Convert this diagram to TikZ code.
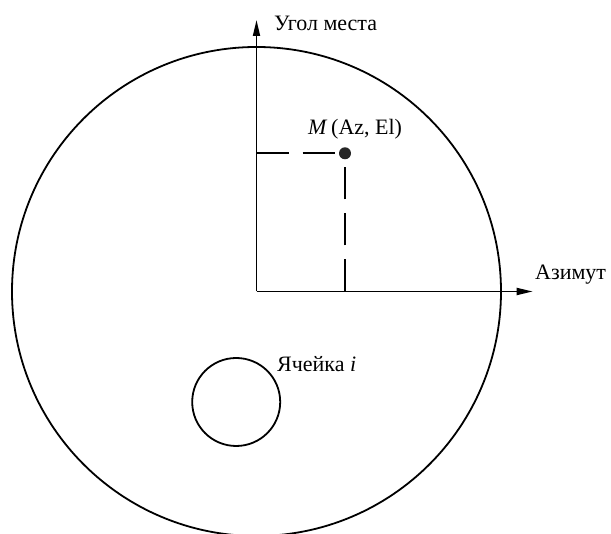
\documentclass[tikz,border=0pt]{standalone}
\usepackage{fontspec}
\setmainfont{Liberation Serif}
\usetikzlibrary{arrows.meta}

\begin{document}
\begin{tikzpicture}[x=1pt, y=1pt]

% Define radii for the circles
\def\bigradius{244.5}
\def\cellradius{44}
% Define styles
\tikzset{axisline/.style={line width=1.8pt, -{Triangle[length=16pt, width=7pt]}},
         guideline/.style={line width=1.8pt, dash pattern=on 32pt off 14pt},
         labeltext/.style={font=\fontsize{22}{26}\selectfont, inner sep=0pt}
        }

% Frame of the picture
\useasboundingbox (0,0) rectangle (611,534);

% Origin and axis ends
\coordinate (origin) at (256.5, 242.5);
\coordinate (azend) at (532.7, 242.5);
\coordinate (elend) at (256.5, 514);

% Large circle (centred at the origin)
\draw[line width=1.8pt] (origin) circle (\bigradius);

% Axes
\draw[axisline] (origin) -- (azend); % Azimuth
\draw[axisline] (origin) -- (elend); % Elevation

\node[labeltext, anchor=base west] (azlabel) at (535, 254) {Азимут};
\node[labeltext, anchor=base west] (ellabel) at (274, 503.5) {Угол места};

% Point M and its projections
\node[circle, fill=black!85, minimum size=12pt, inner sep=0pt] (pointM) at (345, 380.7) {};
\coordinate (projaz) at (pointM |- origin);
\coordinate (projel) at (origin |- pointM);
\draw[guideline] (projel) -- (pointM.west);
\draw[guideline] (projaz) -- (pointM.south);
\node[labeltext, anchor=base west] (mlabel) at (308, 399) {\textit{M}\,(Az, El)};

% Cell i
\node[circle, draw, line width=1.8pt, minimum size=2*\cellradius pt, inner sep=0pt] (cell) at (236.2, 132) {};
\node[labeltext, anchor=base west] (celllabel) at (277, 162) {Ячейка \textit{i}};

\end{tikzpicture}
\end{document}
